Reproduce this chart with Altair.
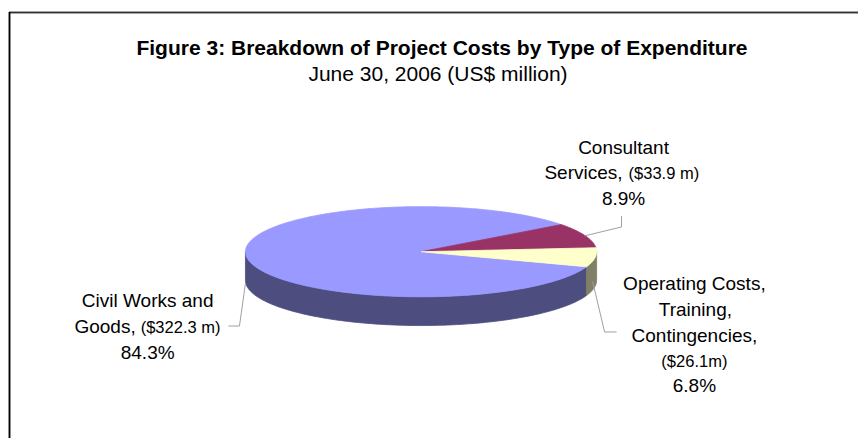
import math
import altair as alt
import pandas as pd

# ---------------- data ----------------
categories = ["Civil Works and Goods", "Consultant Services",
              "Operating Costs, Training, Contingencies"]
amounts = [322.3, 33.9, 26.1]
amount_labels = ["($322.3 m)", "($33.9 m)", "($26.1m)"]
percent_labels = ["84.3%", "8.9%", "6.8%"]
title_text = "Figure 3: Breakdown of Project Costs by Type of Expenditure"
subtitle_text = "June 30, 2006 (US$ million)"

# ---------------- style / layout (page pixel coordinates) ----------------
W, H = 850, 430
CX, CY, RX, RY, DEPTH = 422, 252, 176, 45.5, 29
START = 109.5  # first slice starts this many degrees clockwise from 12 o'clock
top_colors = ["#9999FF", "#993366", "#FFFFCC"]
side_colors = ["#4D4D80", "#6B2447", "#808066"]
FONT = "Liberation Sans"
BIG, SMALL = 19, 16.5

# ---------------- pie geometry derived from the values ----------------
total = sum(amounts)
tops, sides = [], []
c0 = START
for i, v in enumerate(amounts):
    c1 = c0 + v / total * 360.0
    m0, m1 = 90 - c1, 90 - c0  # math angles (ccw from +x)
    n = max(3, int(math.ceil(m1 - m0)) + 1)
    pts = [(CX, CY)]
    for k in range(n):
        a = math.radians(m0 + (m1 - m0) * k / (n - 1))
        pts.append((CX + RX * math.cos(a), CY - RY * math.sin(a)))
    pts.append((CX, CY))
    for j, (x, y) in enumerate(pts):
        tops.append({"poly": f"t{i}", "ord": j, "px": x, "py": y, "col": top_colors[i]})
    # visible (front) part of the wall: lower half of the ellipse
    for kk in range(-3, 3):
        lo = max(m0, -180 + 360 * kk)
        hi = min(m1, 360 * kk)
        if hi > lo:
            n2 = max(3, int(math.ceil(hi - lo)) + 1)
            arc = [math.radians(lo + (hi - lo) * k / (n2 - 1)) for k in range(n2)]
            ring = [(CX + RX * math.cos(a), CY - RY * math.sin(a)) for a in arc]
            ring += [(CX + RX * math.cos(a), CY - RY * math.sin(a) + DEPTH) for a in reversed(arc)]
            ring.append(ring[0])
            for j, (x, y) in enumerate(ring):
                sides.append({"poly": f"s{i}_{kk}", "ord": j, "px": x, "py": y,
                              "col": side_colors[i]})
    c0 = c1

tops_df = pd.DataFrame(tops)
sides_df = pd.DataFrame(sides)

# ---------------- labels ----------------
label_rows = [
    # text, x, y(baseline), size, align
    ("Civil Works and", 148, 308, BIG, "center"),
    ("Goods,", 136, 334, BIG, "right"),
    (amount_labels[0], 141, 334, SMALL, "left"),
    (percent_labels[0], 148, 360, BIG, "center"),
    ("Consultant", 625, 153, BIG, "center"),
    ("Services,", 624, 179, BIG, "right"),
    (amount_labels[1], 630, 179, SMALL, "left"),
    (percent_labels[1], 625, 205, BIG, "center"),
    ("Operating Costs,", 696, 291, BIG, "center"),
    ("Training,", 697, 317, BIG, "center"),
    ("Contingencies,", 696, 343, BIG, "center"),
    (amount_labels[2], 696, 368, SMALL, "center"),
    (percent_labels[2], 696, 394, BIG, "center"),
]
labels_df = pd.DataFrame(label_rows, columns=["txt", "px", "py", "size", "align"])

leaders = [
    [(246, 284), (240, 327), (229, 327)],
    [(586, 236), (623, 227), (623, 216)],
    [(594, 282), (606, 333), (618, 333)],
]
lead_rows = []
for i, pl in enumerate(leaders):
    for j, (x, y) in enumerate(pl):
        lead_rows.append({"line": i, "ord": j, "px": x, "py": y})
leaders_df = pd.DataFrame(lead_rows)

titles_df = pd.DataFrame([
    {"txt": title_text, "px": 443, "py": 53, "bold": True},
    {"txt": subtitle_text, "px": 439, "py": 80, "bold": False},
])

xs = alt.X("px:Q", scale=alt.Scale(domain=[8, 8 + W], nice=False, zero=False), axis=None)
ys = alt.Y("py:Q", scale=alt.Scale(domain=[8, 8 + H], nice=False, zero=False, reverse=True), axis=None)

side_layer = alt.Chart(sides_df).mark_line(strokeWidth=0.8, interpolate="linear").encode(
    x=xs, y=ys, order="ord:Q", detail="poly:N",
    fill=alt.Fill("col:N", scale=None), stroke=alt.Stroke("col:N", scale=None))

top_layer = alt.Chart(tops_df).mark_line(strokeWidth=0.8, interpolate="linear").encode(
    x=xs, y=ys, order="ord:Q", detail="poly:N",
    fill=alt.Fill("col:N", scale=None), stroke=alt.Stroke("col:N", scale=None))

lead_layer = alt.Chart(leaders_df).mark_line(color="#A0A0A0", strokeWidth=1).encode(
    x=xs, y=ys, order="ord:Q", detail="line:N")

text_layers = []
for size in (BIG, SMALL):
    for align in ("left", "center", "right"):
        sub = labels_df[(labels_df["size"] == size) & (labels_df["align"] == align)]
        if len(sub) == 0:
            continue
        text_layers.append(
            alt.Chart(sub).mark_text(font=FONT, fontSize=size, align=align,
                                     baseline="alphabetic", color="#000000").encode(
                x=xs, y=ys, text="txt:N"))

title_layer = alt.Chart(titles_df[titles_df["bold"]]).mark_text(
    font=FONT, fontSize=21, fontWeight="bold", align="center", baseline="alphabetic",
    color="#000000").encode(x=xs, y=ys, text="txt:N")
subtitle_layer = alt.Chart(titles_df[~titles_df["bold"]]).mark_text(
    font=FONT, fontSize=21, align="center", baseline="alphabetic",
    color="#000000").encode(x=xs, y=ys, text="txt:N")

# white cover along the right and bottom edges of the drawing area
cover_right = alt.Chart(titles_df).mark_rule(color="#FFFFFF", strokeWidth=4).encode(
    x=alt.value(W - 1), y=alt.value(0), y2=alt.value(H))
cover_bottom = alt.Chart(titles_df).mark_rule(color="#FFFFFF", strokeWidth=4).encode(
    x=alt.value(3), x2=alt.value(W), y=alt.value(H - 1))

frame_top = alt.Chart(titles_df).mark_rule(color="#333333", strokeWidth=1.5).encode(
    x=alt.value(1), x2=alt.value(W), y=alt.value(2.5))
frame_left = alt.Chart(titles_df).mark_rule(color="#000000", strokeWidth=1.5).encode(
    x=alt.value(1.5), y=alt.value(2), y2=alt.value(H))

chart = alt.layer(
    cover_right, cover_bottom, frame_top, frame_left, side_layer, top_layer, lead_layer,
    *text_layers, title_layer, subtitle_layer
).properties(
    width=W, height=H, padding=0, background="#FFFFFF",
    autosize=alt.AutoSizeParams(type="fit", contains="padding"),
).configure_view(stroke="transparent", strokeWidth=0)

chart.save("out.html", embed_options={"renderer": "svg", "actions": False})
